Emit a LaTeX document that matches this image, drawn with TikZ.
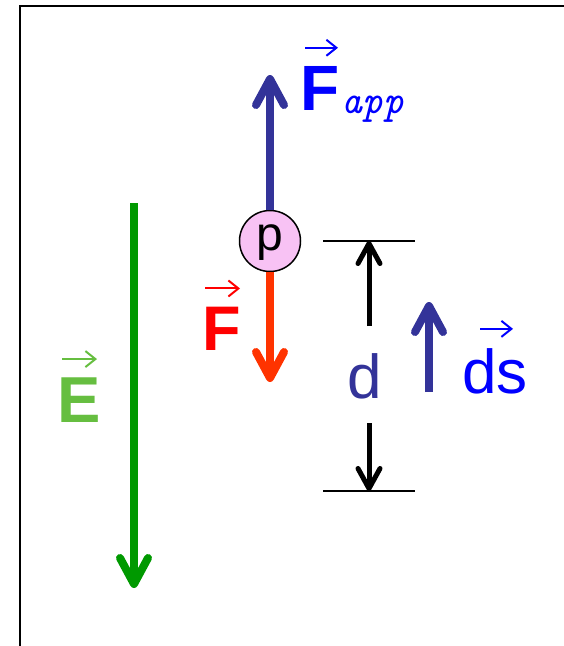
\documentclass[tikz,border=0pt]{standalone}
\usepackage{fontspec}
\setmainfont{Liberation Sans}
\usepackage{tikz}
\usetikzlibrary{positioning,arrows.meta}

\definecolor{pushblue}{RGB}{51,51,153}
\definecolor{textblue}{RGB}{0,0,255}
\definecolor{forcered}{RGB}{255,51,0}
\definecolor{textred}{RGB}{255,0,0}
\definecolor{fieldgreen}{RGB}{0,153,0}
\definecolor{textgreen}{RGB}{102,190,64}
\definecolor{chargepink}{RGB}{248,194,244}

\newcommand{\bigfont}[1]{\fontsize{#1}{#1}\selectfont}

\begin{document}
\begin{tikzpicture}[x=1pt, y=1pt,
    bigarrow/.style={line width=8pt, -{Straight Barb[length=26pt, width=28pt, round]}},
    dimarrow/.style={line width=5pt, -{Straight Barb[length=20pt, width=22pt, round]}},
    vecbar/.style={line width=2pt, -{Straight Barb[length=10pt, width=16pt]}},
    lbl/.style={inner sep=0pt, anchor=base west},
    charge/.style={circle, draw, line width=1.5pt, fill=chargepink, minimum size=61pt, inner sep=0pt}]

    \useasboundingbox (0,0) rectangle (564,-646);
    \draw[line width=2pt] (564,-6) -- (20,-6) -- (20,-646);

    % the charge and the forces on it
    \node (p) [charge] at (270,-241) {\bigfont{48}\raisebox{-9pt}[0pt][0pt]{p}};
    \coordinate (apptip) at (270,-75);
    \coordinate (forcetip) at (270,-382);
    \draw [bigarrow, pushblue] (p.north) -- (apptip);
    \draw [bigarrow, forcered] (p.south) -- (forcetip);

    \node (fapp) [lbl, text=textblue] at (300,-110) {\bigfont{64}\bfseries F};
    \node (fappsub) [lbl, text=textblue] at ([shift={(2,-3)}]fapp.base east) {\bigfont{40}\ttfamily\itshape app};
    \draw [vecbar, textblue] ([shift={(5,18)}]fapp.north west) -- ++(33,0);

    \node (flbl) [lbl, text=textred] at (202,-350) {\bigfont{63}\bfseries F};
    \draw [vecbar, textred] ([shift={(3,18)}]flbl.north west) -- ++(35,0);

    % field
    \coordinate (fieldtop) at (134,-203);
    \coordinate (fieldtip) at (134,-588);
    \draw [bigarrow, fieldgreen] (fieldtop) -- (fieldtip);
    \node (elbl) [lbl, text=textgreen] at (57,-422) {\bigfont{65}\bfseries E};
    \draw [vecbar, textgreen] ([shift={(5,18)}]elbl.north west) -- ++(35,0);

    % distance d
    \coordinate (dtopl) at (323,-241);
    \coordinate (dtopr) at (415,-241);
    \coordinate (dbotl) at (323,-491);
    \coordinate (dbotr) at (415,-491);
    \draw [line width=1.3pt] (dtopl) -- (dtopr);
    \draw [line width=1.3pt] (dbotl) -- (dbotr);
    \node (dlbl) [lbl, text=pushblue] at (347,-398) {\bigfont{62}d};
    \coordinate (dupstart) at (369,-326);
    \coordinate (dupend) at (369,-241);
    \coordinate (ddownstart) at (369,-423);
    \coordinate (ddownend) at (369,-491);
    \draw [dimarrow] (dupstart) -- (dupend);
    \draw [dimarrow] (ddownstart) -- (ddownend);

    % displacement
    \coordinate (dsstart) at (429,-392);
    \coordinate (dsend) at (429,-302);
    \draw [bigarrow, pushblue] (dsstart) -- (dsend);
    \node (dslbl) [lbl, text=textblue] at (462,-393) {\bigfont{62}ds};
    \draw [vecbar, textblue] ([shift={(18,19)}]dslbl.north west) -- ++(33,0);
\end{tikzpicture}
\end{document}
